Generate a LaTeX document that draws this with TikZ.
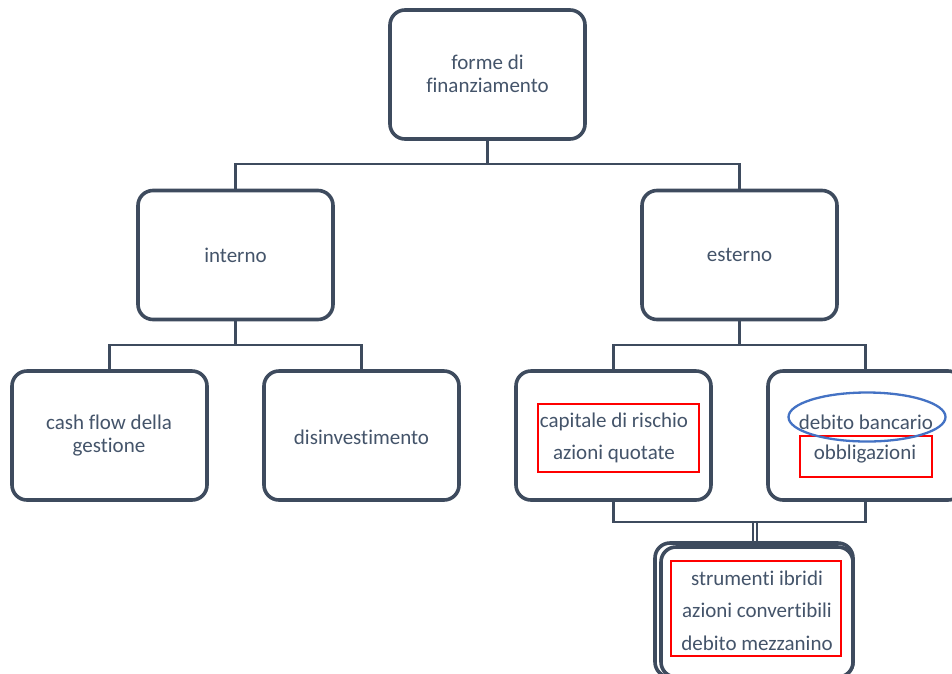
\documentclass[tikz,border=0pt]{standalone}
\usepackage{fontspec}
\setmainfont[Ligatures=NoCommon]{Carlito}
\usetikzlibrary{shapes.geometric}
\definecolor{boxline}{HTML}{3E4B5E}
\definecolor{txt}{HTML}{44546A}
\definecolor{mark}{HTML}{FF0000}
\definecolor{ring}{HTML}{4472C4}
\begin{document}
\begin{tikzpicture}[x=1pt,y=-1pt,
  box/.style={draw=boxline, line width=3.6pt, rounded corners=15pt, fill=white,
    minimum width=195pt, minimum height=129pt, inner sep=0pt},
  lbl/.style={text=txt, align=center, inner sep=0pt, font=\fontsize{21}{23}\selectfont},
  lblw/.style={text=txt, align=center, inner sep=0pt, font=\fontsize{21}{32}\selectfont},
  conn/.style={draw=boxline, line width=2.5pt},
  redbox/.style={draw=mark, line width=2.3pt, inner sep=0pt},
  oval/.style={draw=ring, line width=2.3pt, ellipse, inner sep=0pt}]
\useasboundingbox (0,0) rectangle (952,673);

% boxes
\node[box] (top) at (487.5,74.5) {};
\node[box] (int) at (235.5,255) {};
\node[box] (est) at (739.5,255) {};
\node[box] (cash) at (109.5,435.5) {};
\node[box] (dis) at (361.5,435.5) {};
\node[box] (cap) at (613.5,435.5) {};
\node[box] (deb) at (865.5,435.5) {};
\node[box, minimum width=198pt, minimum height=134pt] (ibr0) at (754,610) {};
\node[box, minimum width=192pt, minimum height=130pt] (ibr) at (757,612) {};

% labels
\node[lbl] (tTop) at (487.5,74) {forme di\\finanziamento};
\node[lbl] (tInt) at (235.5,255) {interno};
\node[lbl] (tEst) at (739.5,255) {esterno};
\node[lbl] (tCash) at (109,436) {cash flow della\\gestione};
\node[lbl] (tDis) at (361.5,437) {disinvestimento};
\node[lblw] (tCap) at (614,438) {capitale di rischio\\azioni quotate};
\node[lbl] (tDebA) at (866,422) {debito bancario};
\node[lbl] (tDebB) at (865,454) {obbligazioni};
\node[lblw, font=\fontsize{21}{32.5}\selectfont] (tIbr) at (757,610.5) {strumenti ibridi\\azioni convertibili\\debito mezzanino};

% highlight marks
\node[redbox, minimum width=161pt, minimum height=68pt] (rCap) at (618.5,438) {};
\node[redbox, minimum width=132pt, minimum height=41pt] (rObb) at (866,456.5) {};
\node[oval, minimum width=157pt, minimum height=49pt] (oDeb) at (867,417) {};
\node[redbox, minimum width=170pt, minimum height=95pt] (rIbr) at (756,608.5) {};

% connectors
\coordinate (j1) at (487.5,164);
\coordinate (j2) at (235.5,345);
\coordinate (j3) at (739.5,345);
\coordinate (j4) at (613.5,522);
\coordinate (j5a) at (752.5,522);
\coordinate (j5b) at (756.5,522);
\draw[conn] (top.south) -- (j1) -| (int.north);
\draw[conn] (j1) -| (est.north);
\draw[conn] (int.south) -- (j2) -| (cash.north);
\draw[conn] (j2) -| (dis.north);
\draw[conn] (est.south) -- (j3) -| (cap.north);
\draw[conn] (j3) -| (deb.north);
\draw[conn] (cap.south) -- (j4) -| (deb.south);
\draw[conn, line width=2pt] (j5a) -- (j5a |- ibr0.north);
\draw[conn, line width=2pt] (j5b) -- (j5b |- ibr0.north);
\end{tikzpicture}
\end{document}
